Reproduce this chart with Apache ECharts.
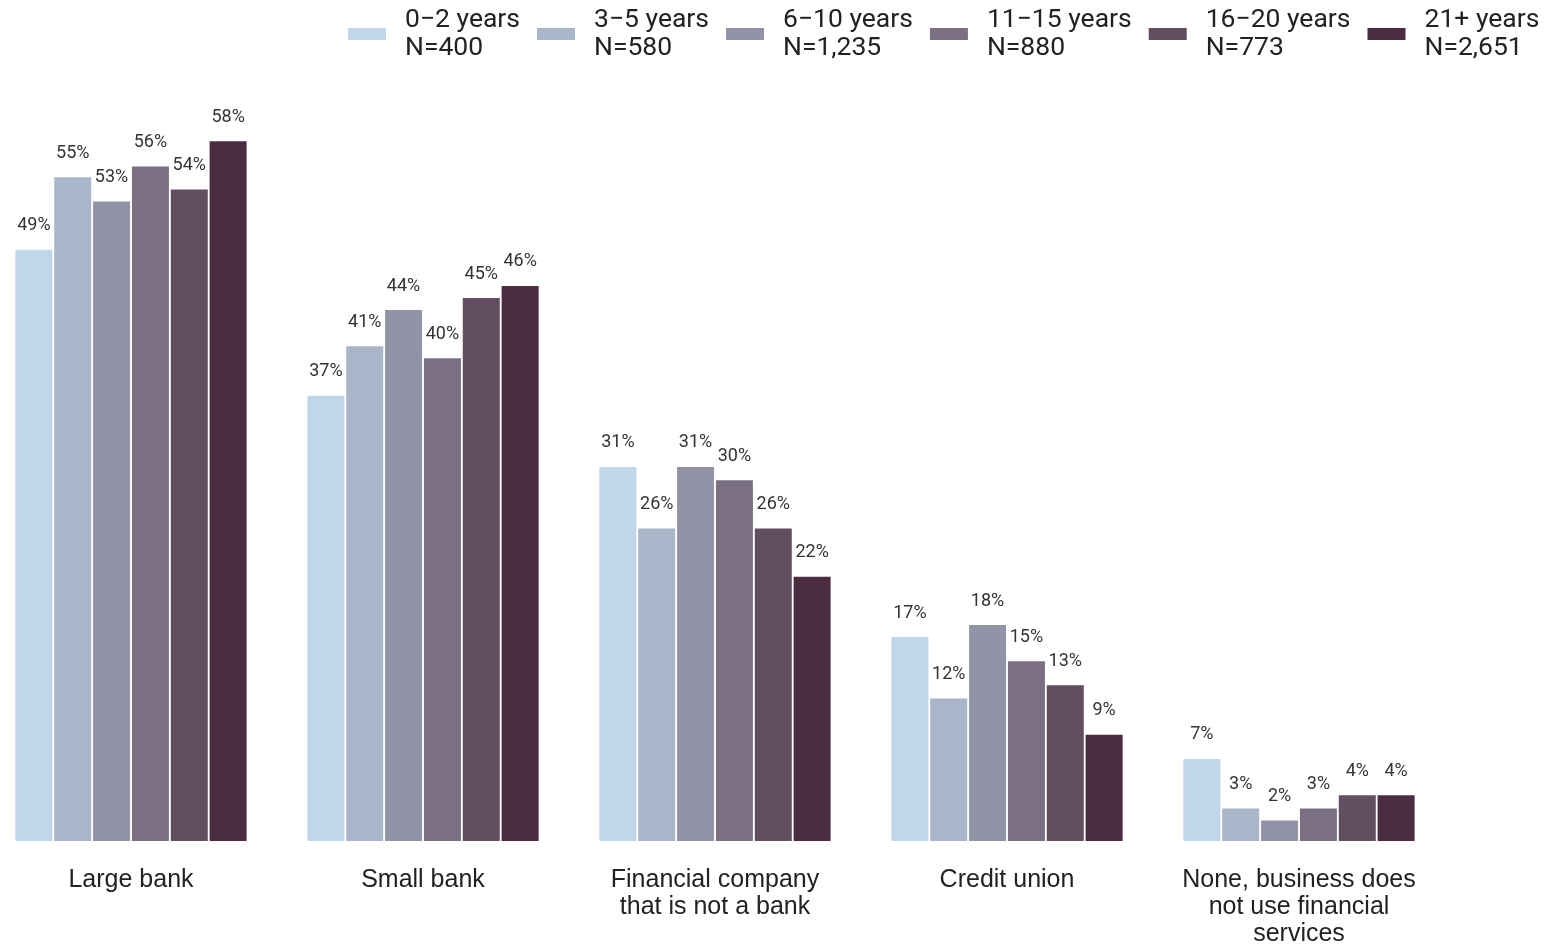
<!DOCTYPE html>
<html><head><meta charset="utf-8">
<script src="https://cdn.jsdelivr.net/npm/echarts@6/dist/echarts.min.js"></script>
<style>html,body{margin:0;padding:0;background:#fff;overflow:hidden}#c{position:absolute;left:-15px;top:0;width:1570px;height:948px}</style>
</head><body><div id="c"></div>
<script>
const categories = ['Large bank', 'Small bank', 'Financial company\nthat is not a bank', 'Credit union', 'None, business does\nnot use financial\nservices'];
const seriesNames = ['0\u22122 years\nN=400', '3\u22125 years\nN=580', '6\u221210 years\nN=1,235', '11\u221215 years\nN=880', '16\u221220 years\nN=773', '21+ years\nN=2,651'];
const s0_2 = [49.0, 36.9, 31.0, 16.9, 6.8];
const s3_5 = [55.0, 41.0, 25.9, 11.8, 2.7];
const s6_10 = [53.0, 44.0, 31.0, 17.9, 1.7];
const s11_15 = [55.9, 40.0, 29.9, 14.9, 2.7];
const s16_20 = [54.0, 45.0, 25.9, 12.9, 3.8];
const s21p = [58.0, 46.0, 21.9, 8.8, 3.8];
const values = [s0_2, s3_5, s6_10, s11_15, s16_20, s21p];
const colors = ['#c0d6ea', '#a9b6ca', '#9393a7', '#7b7082', '#624e60', '#4c2c41'];

const chart = echarts.init(document.getElementById('c'));
chart.setOption({
  animation: false,
  color: colors,
  legend: {
    left: 363, top: 6, padding: 0,
    itemWidth: 38, itemHeight: 12, itemGap: 17,
    icon: 'rect',
    textStyle: { fontFamily: 'Roboto', fontSize: 26.5, color: '#222', lineHeight: 28, padding: [0, 0, 0, 14] },
    data: seriesNames
  },
  grid: { left: 0, right: 110, top: 117, bottom: 105, containLabel: false },
  xAxis: {
    type: 'category', data: categories,
    axisLine: { show: false }, axisTick: { show: false },
    axisLabel: { interval: 0, fontFamily: 'Liberation Sans', fontSize: 25, color: '#222', lineHeight: 27, margin: 26 }
  },
  yAxis: { type: 'value', min: 0, max: 60, show: false, splitLine: { show: false } },
  series: values.map((v, i) => ({
    name: seriesNames[i], type: 'bar', data: v,
    barWidth: 37, barGap: '5%',
    itemStyle: { color: colors[i] },
    label: { show: true, position: 'top', distance: 15, fontFamily: 'Roboto', fontSize: 18, color: '#333',
      formatter: p => Math.round(p.value) + '%' }
  }))
});
</script></body></html>
